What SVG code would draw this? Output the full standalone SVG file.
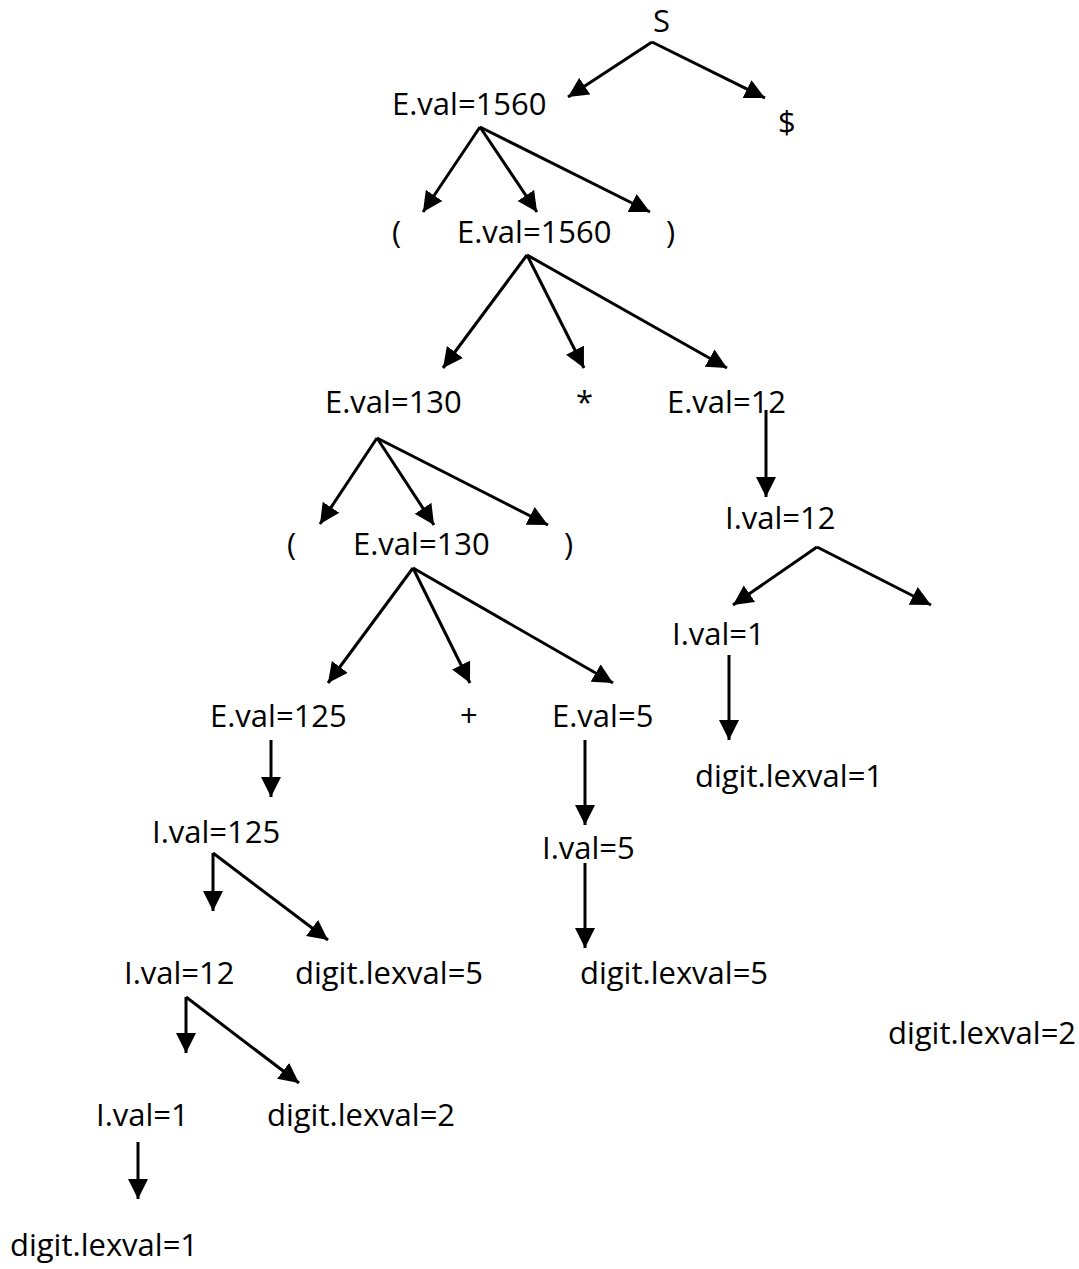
<svg xmlns="http://www.w3.org/2000/svg" width="1079" height="1269" viewBox="0 0 1079 1269">
  <style>
    text { font-family: "Open Sans", Lato, sans-serif; font-size: 31px; fill: #000; }
    .edge { stroke: #000; stroke-width: 3; fill: none; marker-end: url(#head); }
  </style>
  <defs>
    <marker id="head" markerUnits="userSpaceOnUse" markerWidth="22" markerHeight="22" refX="20" refY="10" orient="auto">
      <path d="M0,0 L20,10 L0,20 z" fill="#000"/>
    </marker>
  </defs>
  <rect width="1079" height="1269" fill="#fff"/>

  <!-- parse tree nodes -->
  <g id="n-S"><text x="653" y="32">S</text></g>
  <g id="n-E1560a"><text x="392" y="115">E.val=1560</text></g>
  <g id="n-dollar"><text x="778" y="133">$</text></g>
  <g id="n-lpar1"><text x="392" y="243">(</text></g>
  <g id="n-E1560b"><text x="457" y="243">E.val=1560</text></g>
  <g id="n-rpar1"><text x="666" y="243">)</text></g>
  <g id="n-E130a"><text x="325" y="413">E.val=130</text></g>
  <g id="n-star"><text x="576" y="413">*</text></g>
  <g id="n-E12"><text x="667" y="413">E.val=12</text></g>
  <g id="n-lpar2"><text x="287" y="555">(</text></g>
  <g id="n-E130b"><text x="353" y="555">E.val=130</text></g>
  <g id="n-rpar2"><text x="564" y="555">)</text></g>
  <g id="n-I12r"><text x="725" y="529">I.val=12</text></g>
  <g id="n-I1r"><text x="672" y="645">I.val=1</text></g>
  <g id="n-E125"><text x="210" y="727">E.val=125</text></g>
  <g id="n-plus"><text x="460" y="727">+</text></g>
  <g id="n-E5"><text x="552" y="727">E.val=5</text></g>
  <g id="n-d1r"><text x="695" y="787">digit.lexval=1</text></g>
  <g id="n-I125"><text x="152" y="843">I.val=125</text></g>
  <g id="n-I5"><text x="542" y="859">I.val=5</text></g>
  <g id="n-I12l"><text x="124" y="984">I.val=12</text></g>
  <g id="n-d5a"><text x="295" y="984">digit.lexval=5</text></g>
  <g id="n-d5b"><text x="580" y="984">digit.lexval=5</text></g>
  <g id="n-d2r"><text x="888" y="1044">digit.lexval=2</text></g>
  <g id="n-I1l"><text x="96" y="1126">I.val=1</text></g>
  <g id="n-d2l"><text x="267" y="1126">digit.lexval=2</text></g>
  <g id="n-d1l"><text x="10" y="1256">digit.lexval=1</text></g>

  <!-- connectors -->
  <g id="edges">
    <line class="edge" x1="652" y1="42" x2="568" y2="97"/>
    <line class="edge" x1="652" y1="42" x2="765" y2="98"/>
    <line class="edge" x1="480" y1="127" x2="423" y2="212"/>
    <line class="edge" x1="480" y1="127" x2="537" y2="212"/>
    <line class="edge" x1="480" y1="127" x2="650" y2="212"/>
    <line class="edge" x1="527" y1="255" x2="443" y2="368"/>
    <line class="edge" x1="527" y1="255" x2="584" y2="368"/>
    <line class="edge" x1="527" y1="255" x2="727" y2="368"/>
    <line class="edge" x1="766" y1="410" x2="766" y2="497"/>
    <line class="edge" x1="377" y1="438" x2="320" y2="524"/>
    <line class="edge" x1="377" y1="438" x2="434" y2="525"/>
    <line class="edge" x1="377" y1="438" x2="548" y2="525"/>
    <line class="edge" x1="817" y1="547" x2="733" y2="605"/>
    <line class="edge" x1="817" y1="547" x2="931" y2="605"/>
    <line class="edge" x1="413" y1="568" x2="328" y2="683"/>
    <line class="edge" x1="413" y1="568" x2="470" y2="683"/>
    <line class="edge" x1="413" y1="568" x2="613" y2="683"/>
    <line class="edge" x1="729" y1="655" x2="729" y2="740"/>
    <line class="edge" x1="271" y1="740" x2="271" y2="797"/>
    <line class="edge" x1="585" y1="740" x2="585" y2="825"/>
    <line class="edge" x1="213" y1="853" x2="213" y2="911"/>
    <line class="edge" x1="213" y1="853" x2="328" y2="940"/>
    <line class="edge" x1="585" y1="863" x2="585" y2="948"/>
    <line class="edge" x1="186" y1="997" x2="186" y2="1053"/>
    <line class="edge" x1="186" y1="997" x2="299" y2="1083"/>
    <line class="edge" x1="138" y1="1142" x2="138" y2="1199"/>
  </g>
</svg>
